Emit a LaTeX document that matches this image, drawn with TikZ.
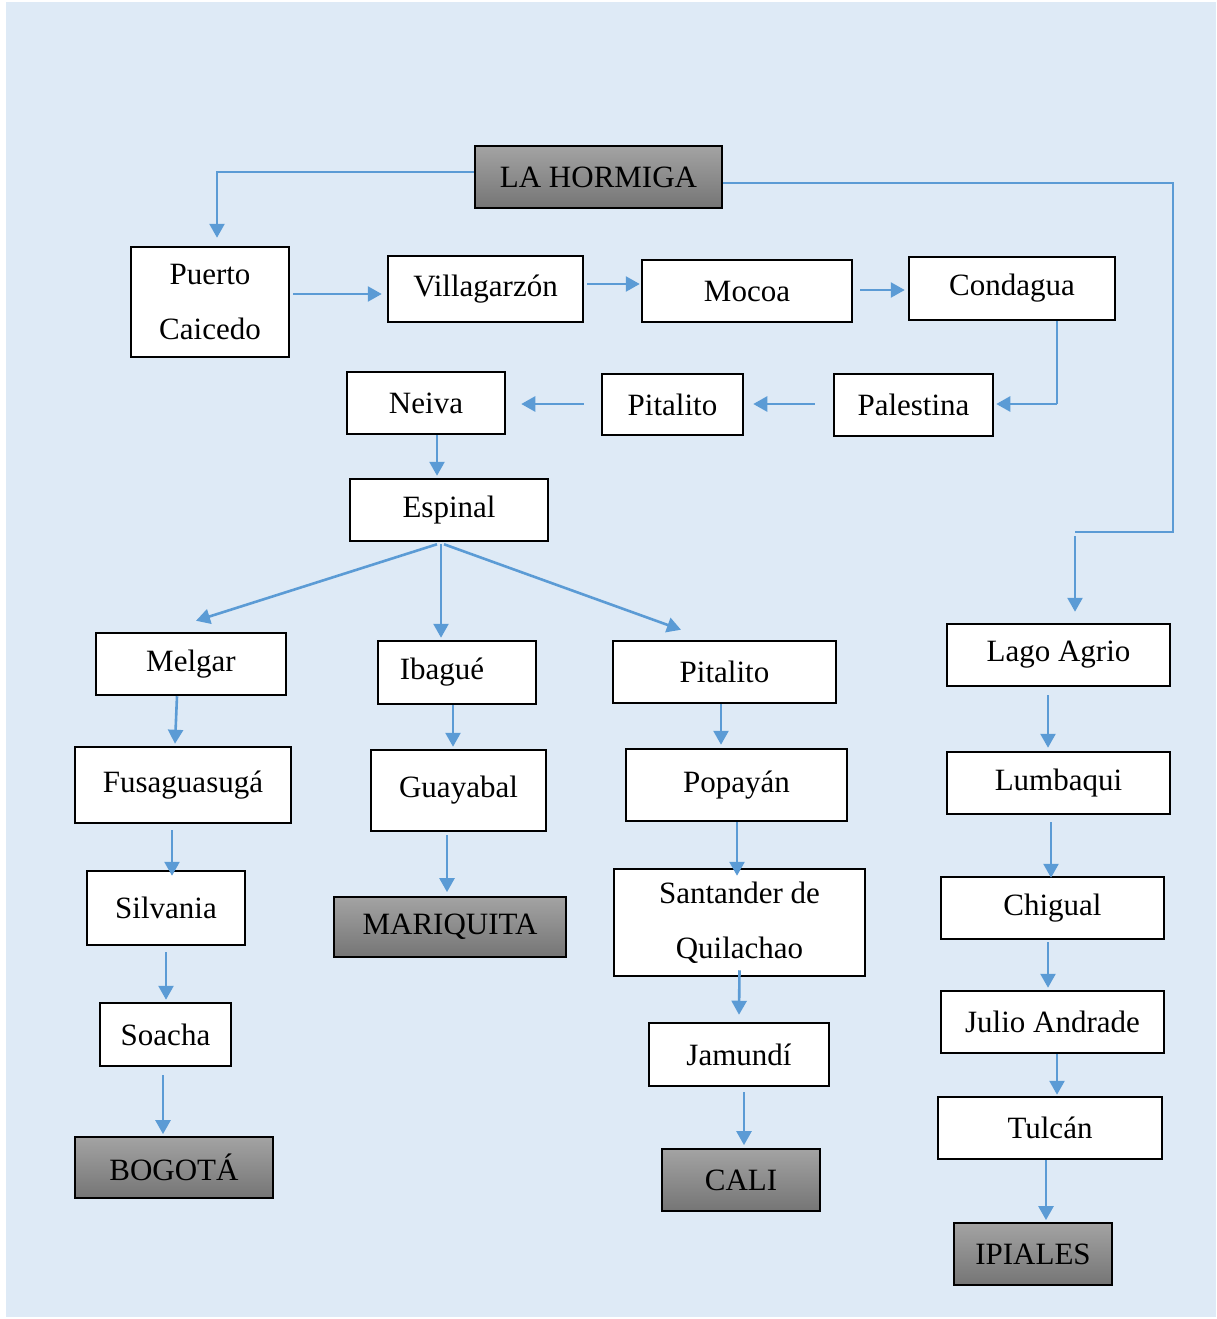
\documentclass[tikz,border=0pt]{standalone}
\usepackage{fontspec}
\setmainfont{Liberation Serif}
\usepackage{xcolor}
\definecolor{ColBack}{RGB}{222,234,246}
\definecolor{ColEdge}{RGB}{91,155,213}
\definecolor{ColTop}{RGB}{163,163,163}
\definecolor{ColBot}{RGB}{117,117,117}
\usepackage{tikz}
\usetikzlibrary{arrows.meta}
\tikzstyle{Box}=[rectangle,draw=black,fill=white,line width=2.5pt,
inner sep=2pt,align=center,font=\fontsize{31}{55}\selectfont]
\tikzstyle{BoxEnd}=[Box,line width=1.8pt,top color=ColTop,bottom color=ColBot]
\tikzstyle{Edge}=[draw=ColEdge,line width=2.6pt,
-{Triangle[length=14pt,width=15pt]}]
\tikzstyle{Link}=[draw=ColEdge,line width=1.3pt]
\begin{document}
\begin{tikzpicture}[x=1pt,y=-1pt]
        \useasboundingbox(0,0)rectangle(1216,1319);
        \fill[ColBack](6,2)rectangle(1216,1317);
        % first row
        \node[BoxEnd,minimum width=247pt,minimum height=62pt](hormiga)at(598.50,177.00){LA HORMIGA};
        \node[Box,minimum width=158pt,minimum height=110pt](puerto)at(210.00,302.00){Puerto\\Caicedo};
        \node[Box,minimum width=195pt,minimum height=66pt](villa)at(485.50,289.00){Villagarzón};
        \node[Box,minimum width=210pt,minimum height=62pt](mocoa)at(747.00,291.00){Mocoa};
        \node[Box,minimum width=206pt,minimum height=63pt](condagua)at(1012.00,288.50){Condagua};
        \node[Box,minimum width=159pt,minimum height=62pt](palestina)at(913.50,405.00){Palestina};
        \node[Box,minimum width=141pt,minimum height=61pt](pitalitoA)at(672.50,404.50){Pitalito};
        \node[Box,minimum width=158pt,minimum height=62pt](neiva)at(426.00,403.00){Neiva};
        \node[Box,minimum width=198pt,minimum height=62pt](espinal)at(449.00,510.00){Espinal};
        % branches
        \node[Box,minimum width=190pt,minimum height=62pt](melgar)at(191.00,664.00){Melgar};
        \node[Box,minimum width=158pt,minimum height=63pt](ibague)at(457.00,672.50){Ibagué\hspace*{30pt}};
        \node[Box,minimum width=223pt,minimum height=62pt](pitalitoB)at(724.50,672.00){Pitalito};
        \node[Box,minimum width=223pt,minimum height=62pt](lago)at(1058.50,655.00){Lago Agrio};
        \node[Box,minimum width=216pt,minimum height=76pt](fusa)at(183.00,785.00){Fusaguasugá};
        \node[Box,minimum width=175pt,minimum height=81pt](guayabal)at(458.50,790.50){Guayabal};
        \node[Box,minimum width=221pt,minimum height=72pt](popayan)at(736.50,785.00){Popayán};
        \node[Box,minimum width=223pt,minimum height=62pt](lumbaqui)at(1058.50,783.00){Lumbaqui};
        \node[Box,minimum width=158pt,minimum height=74pt](silvania)at(166.00,908.00){Silvania};
        \node[BoxEnd,minimum width=232pt,minimum height=60pt](mariquita)at(450.00,927.00){MARIQUITA};
        \node[Box,minimum width=251pt,minimum height=107pt](santander)at(739.50,922.50){Santander de\\Quilachao};
        \node[Box,minimum width=223pt,minimum height=62pt](chigual)at(1052.50,908.00){Chigual};
        \node[Box,minimum width=131pt,minimum height=63pt](soacha)at(165.50,1034.50){Soacha};
        \node[Box,minimum width=223pt,minimum height=62pt](julio)at(1052.50,1022.00){Julio Andrade};
        \node[Box,minimum width=180pt,minimum height=63pt](jamundi)at(739.00,1054.50){Jamundí};
        \node[Box,minimum width=224pt,minimum height=62pt](tulcan)at(1050.00,1128.00){Tulcán};
        \node[BoxEnd,minimum width=198pt,minimum height=61pt](bogota)at(174.00,1167.50){BOGOTÁ};
        \node[BoxEnd,minimum width=158pt,minimum height=62pt](cali)at(741.00,1180.00){CALI};
        \node[BoxEnd,minimum width=158pt,minimum height=62pt](ipiales)at(1033.00,1254.00){IPIALES};
        \coordinate(turn)at(1173.00,532.00);
        \coordinate(drop)at(1075.00,532.00);
        \coordinate(bend)at(1057.00,404.00);
        % connectors
        \draw[Edge]([yshift=5pt]hormiga.west)-|([xshift=7pt,yshift=8pt]puerto.north);
        \draw[Link]([yshift=-6pt]hormiga.east)-|(turn)--(drop);
        \draw[Edge]([yshift=-4pt]drop)--([xshift=16.5pt,yshift=11pt]lago.north);
        \draw[Edge]([xshift=3pt,yshift=8pt]puerto.east)--([xshift=-5pt,yshift=-5pt]villa.west);
        \draw[Edge]([xshift=3pt,yshift=5pt]villa.east)--([xshift=-1pt,yshift=7pt]mocoa.west);
        \draw[Edge]([xshift=7pt,yshift=1pt]mocoa.east)--([xshift=-3pt,yshift=-1.5pt]condagua.west);
        \draw[Link]([xshift=45pt]condagua.south)--(bend);
        \draw[Edge](bend)--([xshift=2pt,yshift=1pt]palestina.east);
        \draw[Edge]([xshift=-18pt,yshift=1pt]palestina.west)--([xshift=9pt,yshift=0.5pt]pitalitoA.east);
        \draw[Edge]([xshift=-17pt,yshift=0.5pt]pitalitoA.west)--([xshift=15pt,yshift=-1pt]neiva.east);
        \draw[Edge]([xshift=11pt]neiva.south)--([xshift=-12pt,yshift=2pt]espinal.north);
        \draw[Edge]([xshift=-12pt,yshift=-2pt]espinal.south)--([xshift=5pt,yshift=11pt]melgar.north);
        \draw[Edge]([xshift=-8pt,yshift=-2pt]espinal.south)--([xshift=-16pt,yshift=2pt]ibague.north);
        \draw[Edge]([xshift=-5pt,yshift=-2pt]espinal.south)--([xshift=-43.5pt,yshift=10pt]pitalitoB.north);
        \draw[Edge]([xshift=-14pt]melgar.south)--([xshift=-8pt,yshift=2pt]fusa.north);
        \draw[Edge]([xshift=-11pt,yshift=-6pt]fusa.south)--([xshift=6pt,yshift=-6pt]silvania.north);
        \draw[Edge]([yshift=-6pt]silvania.south)--([xshift=0.5pt,yshift=2pt]soacha.north);
        \draw[Edge]([xshift=-2.5pt,yshift=-8pt]soacha.south)--([xshift=-11pt,yshift=2pt]bogota.north);
        \draw[Edge]([xshift=-4pt]ibague.south)--([xshift=-5.5pt,yshift=2pt]guayabal.north);
        \draw[Edge]([xshift=-11.5pt,yshift=-3pt]guayabal.south)--([xshift=-3pt,yshift=4pt]mariquita.north);
        \draw[Edge]([xshift=-3.5pt]pitalitoB.south)--([xshift=-15.5pt,yshift=3pt]popayan.north);
        \draw[Edge]([xshift=0.5pt]popayan.south)--([xshift=-2.5pt,yshift=-8pt]santander.north);
        \draw[Edge]([yshift=7pt]santander.south)--([yshift=7pt]jamundi.north);
        \draw[Edge]([xshift=5pt,yshift=-5pt]jamundi.south)--([xshift=3pt,yshift=3pt]cali.north);
        \draw[Edge]([xshift=-10.5pt,yshift=-8pt]lago.south)--([xshift=-10.5pt,yshift=3pt]lumbaqui.north);
        \draw[Edge]([xshift=-7.5pt,yshift=-7pt]lumbaqui.south)--([xshift=-1.5pt,yshift=-2pt]chigual.north);
        \draw[Edge]([xshift=-4.5pt,yshift=-2pt]chigual.south)--([xshift=-4.5pt,yshift=2pt]julio.north);
        \draw[Edge]([xshift=4.5pt]julio.south)--([xshift=7pt,yshift=1pt]tulcan.north);
        \draw[Edge]([xshift=-4pt]tulcan.south)--([xshift=13pt,yshift=2pt]ipiales.north);
    \end{tikzpicture}
\end{document}
